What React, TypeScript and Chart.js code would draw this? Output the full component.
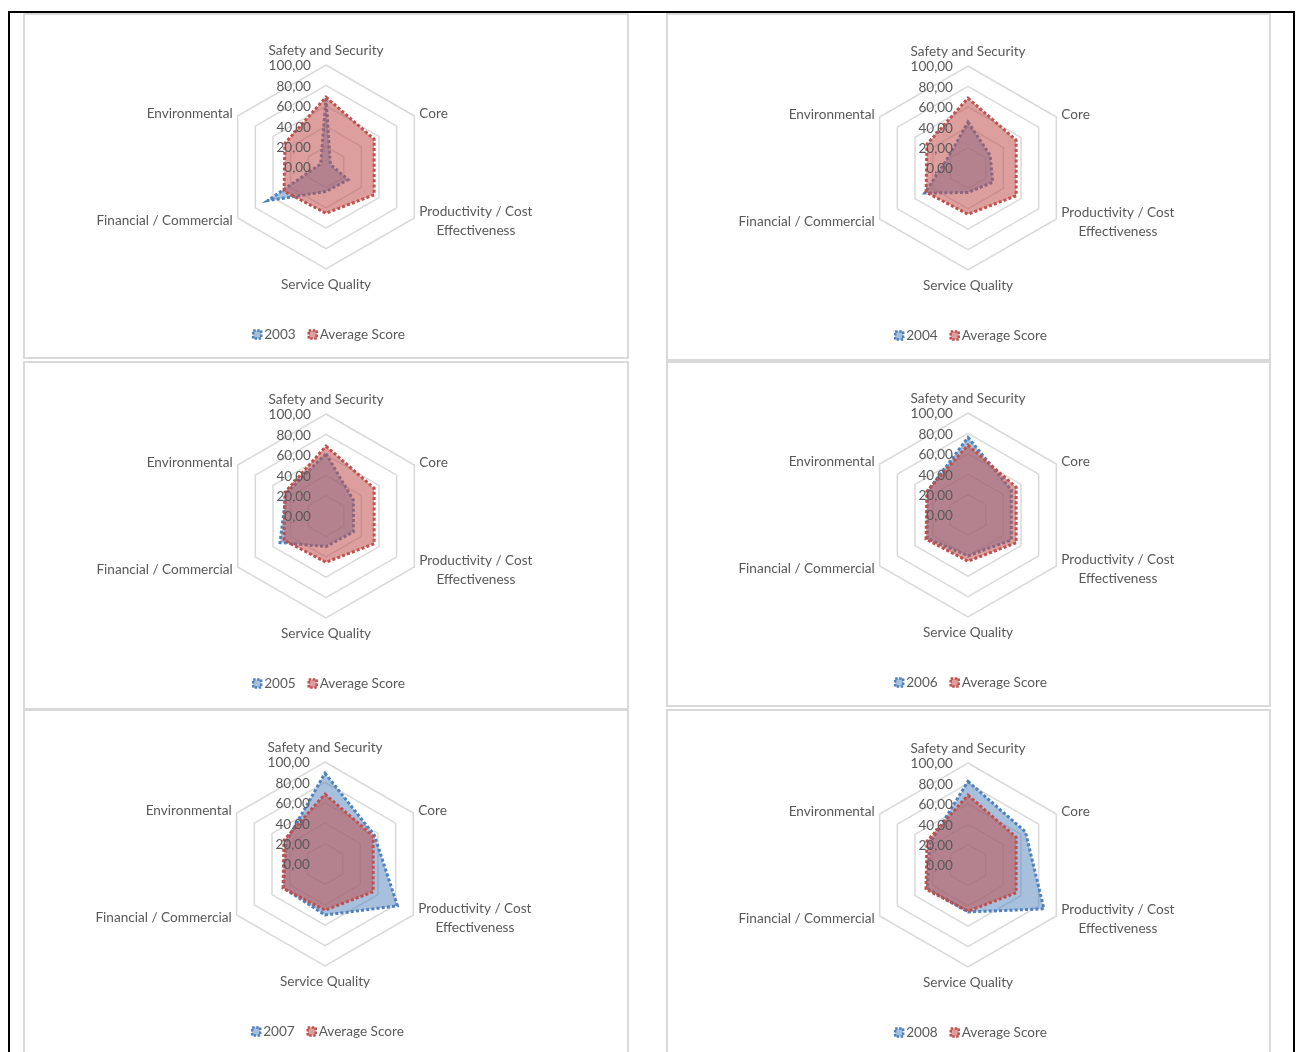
import React, { useEffect, useRef } from "react";
import { Chart, registerables } from "chart.js";

Chart.register(...registerables);

// ---- data ----
const categories: (string | string[])[] = [
  "Safety and Security",
  "Core",
  ["Productivity / Cost", "Effectiveness"],
  "Service Quality",
  "Financial / Commercial",
  "Environmental",
];

const years = ["2003", "2004", "2005", "2006", "2007", "2008"];

const averageScore = [68.5, 54.5, 54.5, 45.3, 47.5, 46.5];
const score2003 = [67, 5, 25, 24, 66, 6];
const score2004 = [45, 25, 28, 24, 49, 22];
const score2005 = [61, 31, 31, 30, 52, 45];
const score2006 = [76, 49, 49, 40, 46, 46];
const score2007 = [89, 56, 82, 50, 47, 44];
const score2008 = [82, 65, 86, 46, 46, 43];

const yearScores = [score2003, score2004, score2005, score2006, score2007, score2008];

const scaleMin = 0;
const scaleMax = 100;
const scaleStep = 20;

// ---- layout of the six chart boxes (page coordinates) ----
const panels = [
  { x: 23, y: 13, w: 606, h: 346, cx: 326, cy: 167 },
  { x: 666, y: 13, w: 605, h: 348, cx: 968, cy: 168 },
  { x: 23, y: 361, w: 606, h: 349, cx: 326, cy: 516 },
  { x: 666, y: 361, w: 605, h: 346, cx: 968, cy: 515 },
  { x: 23, y: 709, w: 606, h: 350, cx: 325, cy: 864 },
  { x: 666, y: 709, w: 605, h: 350, cx: 968, cy: 865 },
];

const RADIUS = 102;
const BORDER = 2;

// ---- styles ----
const FONT_FAMILY = 'Lato, "Open Sans", sans-serif';
const FONT = `13.6px ${FONT_FAMILY}`;
const TEXT_COLOR = "#595959";
const TEXT_DY = 1;
const GRID_COLOR = "#d9d9d9";
const YEAR_LINE = "#4f81bd";
const YEAR_FILL = "rgba(79,129,189,0.5)";
const AVG_LINE = "#c0504d";
const AVG_FILL = "rgba(192,80,77,0.55)";
const LINE_W = 3;
const LINE_DASH = [3, 2.2];
const LINE_H = 18.5;

const formatTick = (v: number) => v.toFixed(2).replace(".", ",");

// Value labels, category labels and legend drawn on top of the plot.
const radarTextPlugin = {
  id: "radarText",
  afterDatasetsDraw(chart: any) {
    const scale = chart.scales.r;
    const ctx: CanvasRenderingContext2D = chart.ctx;
    const cx = scale.xCenter;
    const cy = scale.yCenter;
    ctx.save();
    ctx.font = FONT;
    ctx.fillStyle = TEXT_COLOR;
    ctx.textBaseline = "middle";

    // value labels beside the first spoke
    ctx.textAlign = "right";
    for (const t of scale.ticks) {
      const d = scale.getDistanceFromCenterForValue(t.value);
      ctx.fillText(formatTick(t.value), cx - 15, cy - d + TEXT_DY);
    }

    // category labels around the outer ring
    ctx.textAlign = "center";
    const labels = chart.data.labels as (string | string[])[];
    labels.forEach((lab, i) => {
      const p = scale.getPointPosition(i, scale.drawingArea);
      const lines = Array.isArray(lab) ? lab : [lab];
      const blockW = Math.max(...lines.map((l) => ctx.measureText(l).width));
      const blockH = LINE_H * lines.length;
      const dx = p.x - cx;
      let left: number;
      let midY: number;
      if (Math.abs(dx) < 1) {
        left = p.x - blockW / 2;
        midY = p.y < cy ? p.y - 15 - (blockH - LINE_H) / 2 : p.y + 14.5 + (blockH - LINE_H) / 2;
      } else {
        left = dx > 0 ? p.x + 5 : p.x - 5 - blockW;
        midY = p.y < cy ? p.y - 3 : p.y + 2;
      }
      lines.forEach((l, k) => {
        ctx.fillText(l, left + blockW / 2, midY - blockH / 2 + LINE_H * (k + 0.5) + TEXT_DY);
      });
    });

    // legend below the plot
    const ds = chart.data.datasets;
    const ICON = 12;
    const ICON_GAP = 1;
    const ITEM_GAP = 11;
    const widths = ds.map((d: any) => ICON + ICON_GAP + ctx.measureText(d.label).width);
    const total = widths.reduce((a: number, b: number) => a + b, 0) + ITEM_GAP * (ds.length - 1);
    let x = cx + 2 - total / 2;
    const ly = cy + 167 + TEXT_DY;
    ds.forEach((d: any, i: number) => {
      ctx.save();
      ctx.fillStyle = d.backgroundColor;
      ctx.fillRect(x + 2, ly - 4.5, 8, 8);
      ctx.strokeStyle = d.borderColor;
      ctx.lineWidth = 2.5;
      ctx.setLineDash([2.5, 1.5]);
      ctx.strokeRect(x + 2, ly - 4.5, 8, 8);
      ctx.restore();
      ctx.textAlign = "left";
      ctx.fillStyle = TEXT_COLOR;
      ctx.fillText(d.label, x + ICON + ICON_GAP, ly);
      x += widths[i] + ITEM_GAP;
    });
    ctx.restore();
  },
};

type Panel = (typeof panels)[number];

function RadarPanel({ panel, year, values }: { panel: Panel; year: string; values: number[] }) {
  const ref = useRef<HTMLCanvasElement | null>(null);
  const cw = panel.w - BORDER * 2;
  const ch = panel.h - BORDER * 2;
  const localX = panel.cx - (panel.x + BORDER);
  const localY = panel.cy - (panel.y + BORDER);

  useEffect(() => {
    if (!ref.current) return;
    const chart = new Chart(ref.current, {
      type: "radar",
      data: {
        labels: categories as any,
        datasets: [
          {
            label: year,
            data: values,
            borderColor: YEAR_LINE,
            backgroundColor: YEAR_FILL,
            borderWidth: LINE_W,
            borderDash: LINE_DASH,
            fill: true,
            pointRadius: 0,
            order: 2,
          },
          {
            label: "Average Score",
            data: averageScore,
            borderColor: AVG_LINE,
            backgroundColor: AVG_FILL,
            borderWidth: LINE_W,
            borderDash: LINE_DASH,
            fill: true,
            pointRadius: 0,
            order: 1,
          },
        ],
      },
      options: {
        responsive: false,
        animation: false,
        layout: {
          padding: {
            left: localX - RADIUS,
            right: cw - localX - RADIUS,
            top: localY - RADIUS,
            bottom: ch - localY - RADIUS,
          },
        },
        plugins: {
          legend: { display: false },
          tooltip: { enabled: false },
        },
        elements: { line: { tension: 0 } },
        scales: {
          r: {
            min: scaleMin,
            max: scaleMax,
            ticks: { stepSize: scaleStep, display: false },
            pointLabels: { display: false },
            angleLines: { display: false },
            grid: { color: GRID_COLOR, lineWidth: 1.5 },
          },
        },
      },
      plugins: [radarTextPlugin],
    });
    return () => chart.destroy();
  }, []);

  return (
    <div
      style={{
        position: "absolute",
        left: panel.x,
        top: panel.y,
        width: panel.w,
        height: panel.h,
        border: `${BORDER}px solid ${GRID_COLOR}`,
        boxSizing: "border-box",
        background: "#fff",
      }}
    >
      <canvas ref={ref} width={cw} height={ch} style={{ display: "block" }} />
    </div>
  );
}

export default function App() {
  return (
    <div
      style={{
        position: "absolute",
        left: 0,
        top: 0,
        width: 1297,
        height: 1052,
        overflow: "hidden",
        background: "#fff",
      }}
    >
      <div
        style={{
          position: "absolute",
          left: 8,
          top: 11,
          width: 1287,
          height: 1100,
          border: "2px solid #000",
          boxSizing: "border-box",
        }}
      />
      {panels.map((p, i) => (
        <RadarPanel key={years[i]} panel={p} year={years[i]} values={yearScores[i]} />
      ))}
    </div>
  );
}
